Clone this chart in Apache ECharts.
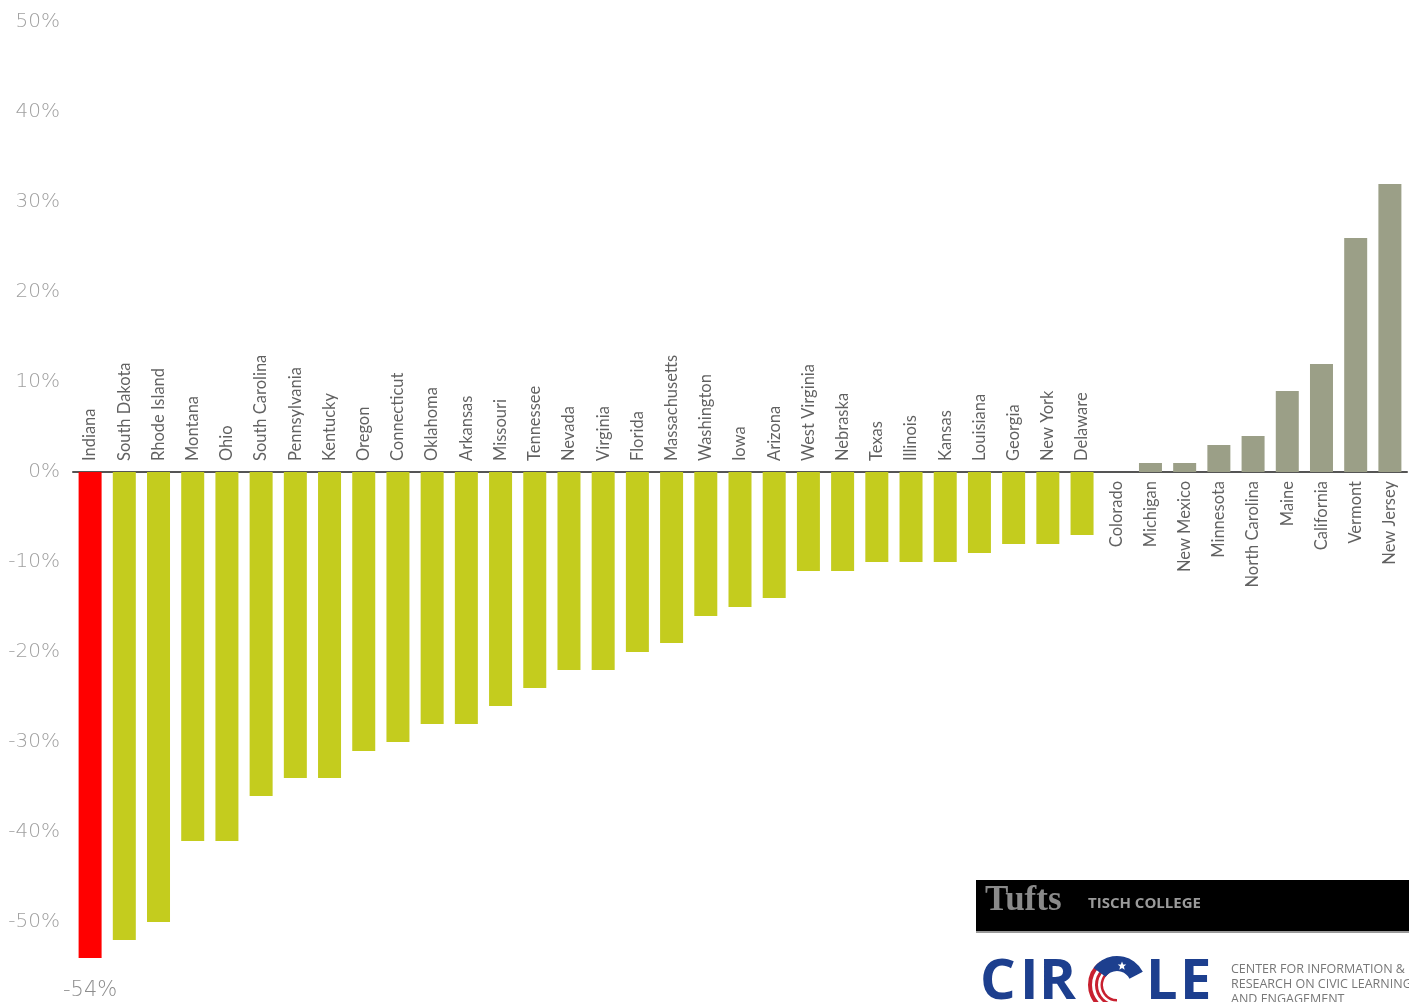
<!DOCTYPE html>
<html>
<head>
<meta charset="utf-8">
<script src="https://cdn.jsdelivr.net/npm/echarts@6/dist/echarts.min.js"></script>
<style>
html,body{margin:0;padding:0;background:#fff;}
#chart{width:1409px;height:1002px;}
</style>
</head>
<body>
<div id="chart"></div>
<script>
const states = ["Indiana","South Dakota","Rhode Island","Montana","Ohio","South Carolina","Pennsylvania","Kentucky","Oregon","Connecticut","Oklahoma","Arkansas","Missouri","Tennessee","Nevada","Virginia","Florida","Massachusetts","Washington","Iowa","Arizona","West Virginia","Nebraska","Texas","Illinois","Kansas","Louisiana","Georgia","New York","Delaware","Colorado","Michigan","New Mexico","Minnesota","North Carolina","Maine","California","Vermont","New Jersey"];
const changes = [-54,-52,-50,-41,-41,-36,-34,-34,-31,-30,-28,-28,-26,-24,-22,-22,-20,-19,-16,-15,-14,-11,-11,-10,-10,-10,-9,-8,-8,-7,0,1,1,3,4,9,12,26,32];
const highlightState = "Indiana";
const yRange = {min:-55, max:50, interval:5, labelEvery:10};
const minLabel = "-54%";

const RED = '#ff0000', GREEN = '#c4cc1e', GREY = '#9b9f87';
const LABEL_FONT = 'Lato, "Open Sans", sans-serif';
const AXIS_FONT = '"DejaVu Sans", sans-serif';

const chart = echarts.init(document.getElementById('chart'));

const barData = changes.map((v,i)=>({
  value: v,
  itemStyle: {color: states[i]===highlightState ? RED : (v<0 ? GREEN : GREY)}
}));

const labelData = states.map((s,i)=>{
  const neg = changes[i] < 0;
  return {
    value: [i, 0],
    name: s,
    label: {
      show: true,
      position: neg ? 'top' : 'bottom',
      distance: neg ? 11 : 9,
      rotate: 90,
      align: neg ? 'left' : 'right',
      verticalAlign: 'middle',
      formatter: s,
      color: '#3a3a3a',
      fontSize: 16.5,
      fontWeight: 400,
      fontFamily: LABEL_FONT
    }
  };
});

const minIdx = changes.indexOf(Math.min(...changes));

chart.setOption({
  animation: false,
  grid: {left: 73, right: 2, top: 22, height: (yRange.max - yRange.min) * 9, containLabel: false},
  xAxis: {
    type: 'category',
    data: states,
    axisLine: {onZero: true, lineStyle: {color: '#555', width: 2}},
    axisTick: {show: false},
    axisLabel: {show: false},
    splitLine: {show: false}
  },
  yAxis: {
    type: 'value',
    min: yRange.min, max: yRange.max, interval: yRange.interval,
    axisLine: {show: false},
    axisTick: {show: false},
    splitLine: {show: false},
    axisLabel: {
      margin: 13,
      color: '#a0a0a0',
      fontSize: 20,
      fontWeight: 200,
      fontFamily: AXIS_FONT,
      formatter: v => (v % yRange.labelEvery === 0) ? v + '%' : ''
    }
  },
  series: [
    {
      type: 'bar',
      data: barData,
      barWidth: 23
    },
    {
      type: 'scatter',
      data: labelData,
      symbolSize: 0,
      itemStyle: {color: 'transparent'},
      silent: true,
      z: 5
    },
    {
      type: 'scatter',
      data: [{value: [minIdx, changes[minIdx]], label: {show: true, position: 'bottom', distance: 22, formatter: minLabel, color: '#707070', fontSize: 21, fontWeight: 200, fontFamily: AXIS_FONT}}],
      symbolSize: 0,
      itemStyle: {color: 'transparent'},
      silent: true
    }
  ],
  graphic: [
    {type: 'rect', shape: {x: 976, y: 880, width: 433, height: 51}, style: {fill: '#000'}},
    {type: 'rect', shape: {x: 976, y: 931, width: 433, height: 2}, style: {fill: '#999'}},
    {type: 'text', x: 985, y: 901, style: {text: 'Tufts', fill: '#8a8a8a', font: 'bold 35px "Liberation Serif", "DejaVu Serif", serif', verticalAlign: 'middle'}},
    {type: 'text', x: 1088, y: 904, style: {text: 'TISCH COLLEGE', fill: '#9a9a9a', font: 'bold 15px "Open Sans", sans-serif', verticalAlign: 'middle'}},
    {type: 'text', x: 980, y: 955, style: {text: 'C', fill: '#1d3f8e', font: 'bold 56px "Open Sans", sans-serif', verticalAlign: 'top'}},
    {type: 'text', x: 1020, y: 955, style: {text: 'I', fill: '#1d3f8e', font: 'bold 56px "Open Sans", sans-serif', verticalAlign: 'top'}},
    {type: 'text', x: 1039, y: 955, style: {text: 'R', fill: '#1d3f8e', font: 'bold 56px "Open Sans", sans-serif', verticalAlign: 'top'}},
    {type: 'sector', shape: {cx: 1117, cy: 985, r: 29, r0: 14, startAngle: Math.PI*0.5, endAngle: Math.PI*1.3, clockwise: true}, style: {fill: '#c8202f'}},
    {type: 'sector', shape: {cx: 1117, cy: 985, r: 25, r0: 22, startAngle: Math.PI*0.5, endAngle: Math.PI*1.25}, style: {fill: '#fff'}},
    {type: 'sector', shape: {cx: 1117, cy: 985, r: 19, r0: 16.5, startAngle: Math.PI*0.5, endAngle: Math.PI*1.25}, style: {fill: '#fff'}},
    {type: 'sector', shape: {cx: 1117, cy: 985, r: 29, r0: 14, startAngle: Math.PI*1.2, endAngle: Math.PI*1.85}, style: {fill: '#1d3f8e'}},
    {type: 'polygon', shape: {points: (()=>{const p=[];for(let k=0;k<10;k++){const a=-Math.PI/2+k*Math.PI/5;const rr=k%2?2:4.5;p.push([1122+rr*Math.cos(a),966+rr*Math.sin(a)]);}return p;})()}, style: {fill: '#fff'}},
    {type: 'text', x: 1146, y: 955, style: {text: 'L', fill: '#1d3f8e', font: 'bold 56px "Open Sans", sans-serif', verticalAlign: 'top'}},
    {type: 'text', x: 1180, y: 955, style: {text: 'E', fill: '#1d3f8e', font: 'bold 56px "Open Sans", sans-serif', verticalAlign: 'top'}},
    {type: 'text', x: 1231, y: 969, style: {text: 'CENTER FOR INFORMATION &', fill: '#777', font: '12.5px "Open Sans", sans-serif', verticalAlign: 'middle'}},
    {type: 'text', x: 1231, y: 984, style: {text: 'RESEARCH ON CIVIC LEARNING', fill: '#777', font: '12.5px "Open Sans", sans-serif', verticalAlign: 'middle'}},
    {type: 'text', x: 1231, y: 999, style: {text: 'AND ENGAGEMENT', fill: '#777', font: '12.5px "Open Sans", sans-serif', verticalAlign: 'middle'}}
  ]
});
</script>
</body>
</html>
